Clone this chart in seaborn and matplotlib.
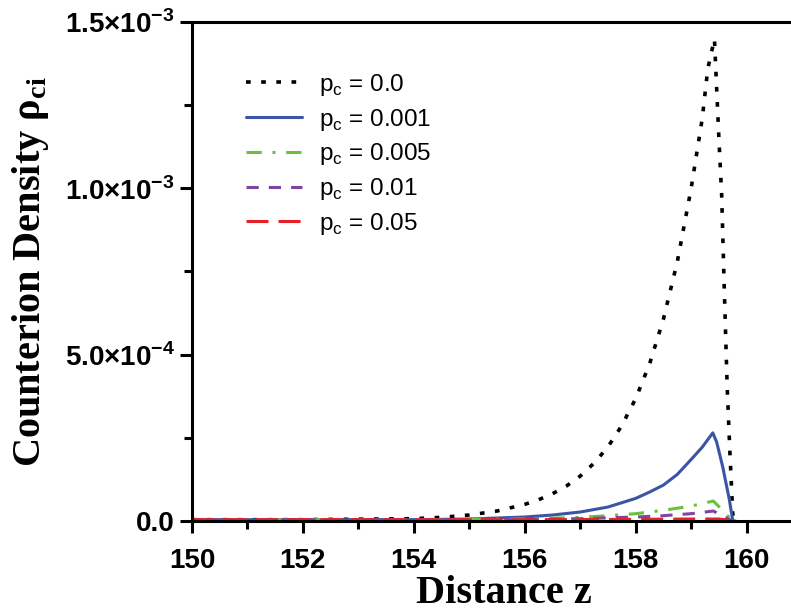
import matplotlib
matplotlib.use("Agg")
import matplotlib.pyplot as plt
import seaborn as sns
import numpy as np
import pandas as pd
from matplotlib.ticker import MultipleLocator, FuncFormatter

# values (density in units of 1e-3)
z_p0 = [150, 152, 154, 154.5, 155, 155.5, 156, 156.25, 156.5, 156.75, 157, 157.25, 157.5,
        157.75, 158, 158.25, 158.5, 158.75, 159, 159.2, 159.3, 159.42, 159.5, 159.55,
        159.6, 159.65, 159.7, 159.75, 159.8]
rho_p0 = [0.004, 0.004, 0.007, 0.011, 0.018, 0.030, 0.050, 0.064, 0.082, 0.105, 0.135, 0.174,
          0.223, 0.287, 0.368, 0.472, 0.607, 0.779, 1.0, 1.21, 1.36, 1.449, 1.15, 0.98,
          0.68, 0.40, 0.20, 0.02, 0.0]

z_p001 = [150, 152, 154, 155, 156, 156.5, 157, 157.5, 158, 158.25, 158.5, 158.75, 159,
          159.2, 159.39, 159.46, 159.57, 159.69, 159.75, 159.8]
rho_p001 = [0.004, 0.004, 0.004, 0.006, 0.012, 0.018, 0.027, 0.042, 0.068, 0.087, 0.108,
            0.14, 0.185, 0.222, 0.265, 0.237, 0.162, 0.063, 0.0, 0.0]

z_p005 = [150, 154, 156, 157, 157.5, 158, 158.5, 159, 159.4, 159.55, 159.7, 159.75]
rho_p005 = [0.004, 0.004, 0.006, 0.011, 0.016, 0.022, 0.032, 0.045, 0.060, 0.035, 0.008, 0.0]

z_p01 = [150, 155, 156, 157, 158, 158.5, 159, 159.4, 159.6, 159.75]
rho_p01 = [0.004, 0.004, 0.005, 0.007, 0.012, 0.016, 0.022, 0.030, 0.012, 0.0]

z_p05 = [150, 156, 158, 159, 159.5, 159.7, 159.75]
rho_p05 = [0.004, 0.004, 0.005, 0.006, 0.006, 0.002, 0.0]

labels = ["p$_\\mathrm{c}$ = 0.0", "p$_\\mathrm{c}$ = 0.001", "p$_\\mathrm{c}$ = 0.005",
          "p$_\\mathrm{c}$ = 0.01", "p$_\\mathrm{c}$ = 0.05"]

sns.set_style("ticks")
plt.rcParams['font.family'] = ['Liberation Sans', 'DejaVu Sans']
plt.rcParams['mathtext.fontset'] = 'custom'
plt.rcParams['mathtext.rm'] = 'Liberation Sans'
plt.rcParams['mathtext.bf'] = 'Liberation Sans:bold'
plt.rcParams['mathtext.sf'] = 'Liberation Serif:bold'
plt.rcParams['xtick.color'] = 'black'
plt.rcParams['ytick.color'] = 'black'
plt.rcParams['text.color'] = 'black'
plt.rcParams['axes.labelcolor'] = 'black'

fig = plt.figure(figsize=(7.91, 6.11), dpi=100)
ax = fig.add_axes([0.2427, 0.1473, 0.7573, 0.8167])

series = [
    (z_p0, rho_p0, "black", (0, (1.3, 2.9)), 2.6),
    (z_p001, rho_p001, "#3a55a5", "-", 2.2),
    (z_p005, rho_p005, "#6cbf3f", (0, (5, 3.5, 1, 3.5)), 2.2),
    (z_p01, rho_p01, "#8045a0", (0, (4, 3.3)), 2.2),
    (z_p05, rho_p05, "#e8202a", (0, (7.2, 3.3)), 2.2),
]
for (z, rho, col, ls, lw), lab in zip(series, labels):
    df = pd.DataFrame({"z": z, "rho": np.array(rho) * 1e-3})
    sns.lineplot(data=df, x="z", y="rho", color=col, linestyle=ls, linewidth=lw,
                 label=lab, estimator=None, ax=ax)

ax.set_xlim(150, 160.8)
ax.set_ylim(0, 1.5e-3)
ax.xaxis.set_major_locator(MultipleLocator(2))
ax.xaxis.set_minor_locator(MultipleLocator(1))
ax.yaxis.set_major_locator(MultipleLocator(5e-4))
ax.yaxis.set_minor_locator(MultipleLocator(2.5e-4))


def yfmt(v, pos):
    if abs(v) < 1e-12:
        return "0.0"
    m = v / 1e-4
    if m >= 10:
        return "%.1f\u00d710$^{\\mathbf{-3}}$" % (v / 1e-3)
    return "%.1f\u00d710$^{\\mathbf{-4}}$" % m


ax.yaxis.set_major_formatter(FuncFormatter(yfmt))

for s in ["left", "bottom", "top"]:
    ax.spines[s].set_linewidth(2.2)
    ax.spines[s].set_color("black")
ax.spines["right"].set_visible(False)
ax.tick_params(which="major", direction="out", length=8.5, width=2.2, labelsize=20)
ax.tick_params(axis="x", which="major", pad=11)
ax.tick_params(axis="y", which="major", pad=4)
ax.tick_params(which="minor", direction="out", length=5.5, width=2.2)
ax.tick_params(top=False, right=False, which="both")
for t in ax.get_xticklabels() + ax.get_yticklabels():
    t.set_fontweight("bold")

ax.set_xlabel("Distance z", fontfamily="Liberation Serif", fontweight="bold", fontsize=29)
ax.set_ylabel("Counterion Density \u03c1$_{\\mathsf{ci}}$", fontfamily="Liberation Serif",
              fontweight="bold", fontsize=29)
ax.xaxis.set_label_coords(0.52, -0.108)
ax.yaxis.set_label_coords(-0.235, 0.5)

ax.legend(loc="upper left", bbox_to_anchor=(0.09, 0.90), frameon=False, fontsize=17.5,
          handlelength=2.3, handletextpad=0.7, labelspacing=0.36, borderpad=0,
          borderaxespad=0)

fig.savefig("out.png", dpi=100)
